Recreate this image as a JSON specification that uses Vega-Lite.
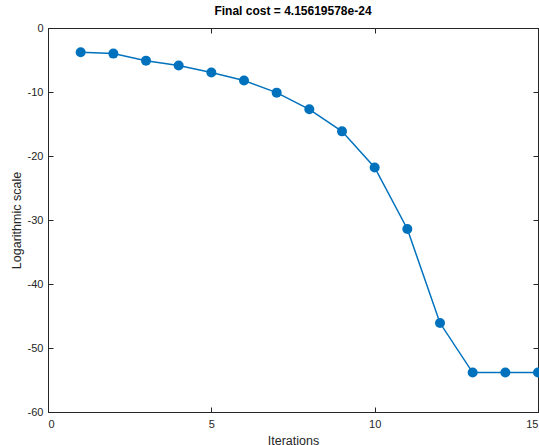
{
  "$schema": "https://vega.github.io/schema/vega-lite/v6.json",
  "autosize": {"type": "none"},
  "padding": {"left": 48, "top": 28, "right": 1, "bottom": 33},
  "width": 490,
  "height": 384,
  "background": "white",
  "config": {
    "font": "Liberation Sans",
    "view": {"stroke": "#262626", "strokeWidth": 1},
    "axis": {
      "grid": false,
      "domainColor": "#262626",
      "tickColor": "#262626",
      "labelColor": "#262626",
      "titleColor": "#262626",
      "labelFont": "Liberation Sans",
      "titleFont": "Liberation Sans",
      "labelFontSize": 11,
      "titleFontSize": 12.5,
      "titleFontWeight": "normal",
      "tickSize": -5
    }
  },
  "title": {
    "text": "Final cost = 4.15619578e-24",
    "font": "Liberation Sans",
    "fontSize": 12,
    "fontWeight": "bold",
    "color": "#000000",
    "offset": 4
  },
  "data": {
    "values": [
      {"it": 1, "v": -3.8},
      {"it": 2, "v": -4.0},
      {"it": 3, "v": -5.1},
      {"it": 4, "v": -5.85},
      {"it": 5, "v": -6.95},
      {"it": 6, "v": -8.2},
      {"it": 7, "v": -10.1},
      {"it": 8, "v": -12.7},
      {"it": 9, "v": -16.15},
      {"it": 10, "v": -21.8},
      {"it": 11, "v": -31.4},
      {"it": 12, "v": -46.1},
      {"it": 13, "v": -53.84},
      {"it": 14, "v": -53.84},
      {"it": 15, "v": -53.84}
    ]
  },
  "layer": [
    {
      "mark": {"type": "line", "color": "#0072BD", "strokeWidth": 1.5},
      "encoding": {
        "x": {
          "field": "it",
          "type": "quantitative",
          "scale": {"domain": [0, 15], "nice": false, "zero": false},
          "axis": {"orient": "bottom", "values": [0, 5, 10, 15], "title": "Iterations", "labelPadding": 11, "titlePadding": 5, "labelExpr": "toString(datum.value)"}
        },
        "y": {
          "field": "v",
          "type": "quantitative",
          "scale": {"domain": [-60, 0], "nice": false},
          "axis": {"orient": "left", "values": [-60, -50, -40, -30, -20, -10, 0], "title": "Logarithmic scale", "labelPadding": 10, "titlePadding": 4, "labelExpr": "toString(datum.value)"}
        }
      }
    },
    {
      "mark": {"type": "point", "filled": true, "opacity": 1, "color": "#0072BD", "size": 100},
      "encoding": {
        "x": {"field": "it", "type": "quantitative", "scale": {"domain": [0, 15], "nice": false, "zero": false}, "axis": null},
        "y": {"field": "v", "type": "quantitative", "scale": {"domain": [-60, 0], "nice": false}, "axis": null}
      }
    },
    {
      "mark": {"type": "point", "opacity": 0},
      "encoding": {
        "x": {"field": "it", "type": "quantitative", "scale": {"domain": [0, 15], "nice": false, "zero": false},
          "axis": {"orient": "top", "values": [0, 5, 10, 15], "labels": false, "title": null}},
        "y": {"field": "v", "type": "quantitative", "scale": {"domain": [-60, 0], "nice": false},
          "axis": {"orient": "right", "values": [-60, -50, -40, -30, -20, -10, 0], "labels": false, "title": null}}
      }
    }
  ],
  "resolve": {"axis": {"x": "independent", "y": "independent"}}
}
